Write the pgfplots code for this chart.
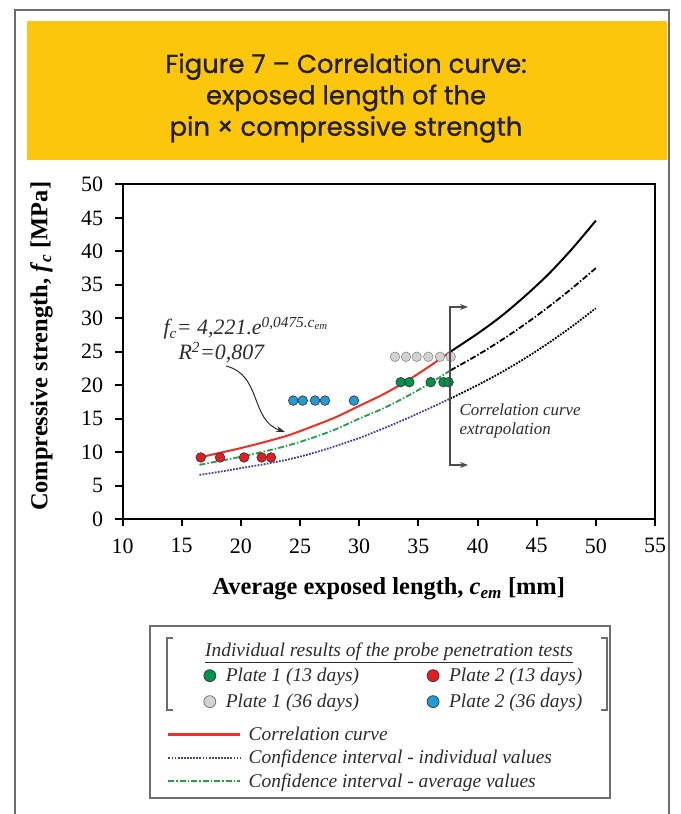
\documentclass[border=0pt]{standalone}
\usepackage{fontspec}
\setmainfont{Liberation Serif}
\newfontfamily\titlefont{Poppins}[FakeBold=0.9]
\usepackage{pgfplots}
\pgfplotsset{compat=1.18}
\usetikzlibrary{arrows.meta}

\definecolor{titleyellow}{HTML}{FCC60D}
\definecolor{titletext}{HTML}{231F20}
\definecolor{framegray}{HTML}{6D6D6D}
\definecolor{pgreen}{HTML}{00934A}
\definecolor{pred}{HTML}{E31B23}
\definecolor{pgray}{HTML}{D2D2D2}
\definecolor{pblue}{HTML}{2399D6}
\definecolor{edge}{HTML}{3A3A3A}
\definecolor{cred}{HTML}{EE3124}
\definecolor{cpurple}{HTML}{4B3E99}
\definecolor{cgreen}{HTML}{21A046}
\definecolor{legtext}{HTML}{2B2B2B}

\newcommand\legfont{\fontsize{19.5}{21}\selectfont\itshape}

\begin{document}
\begin{tikzpicture}[x=1bp,y=1bp]
\path[use as bounding box] (0,0) rectangle (681,814);
% frame and title band
\draw[framegray, line width=1.5bp] (15,0) -- (15,804) -- (669,804) -- (669,0);
\fill[titleyellow] (27,654) rectangle (667,793);
\node[align=center, font=\titlefont\fontsize{26}{31.5}\selectfont, text=titletext] at (346,716)
  {Figure 7 – Correlation curve:\\exposed length of the\\pin × compressive strength};

\begin{axis}[
  at={(122.5bp,295bp)}, anchor=south west,
  scale only axis, width=532.5bp, height=334.5bp,
  xmin=10, xmax=55, ymin=0, ymax=50,
  xtick={10,15,...,55}, ytick={0,5,...,50},
  tick pos=left, tick align=outside, major tick length=7bp,
  axis line style={line width=2bp},
  every tick/.style={black, line width=2bp},
  /pgf/number format/assume math mode=true,
  tick label style={font=\fontsize{22}{24}\selectfont},
  xticklabel style={yshift=-9bp},
  yticklabel style={xshift=-9bp},
  xlabel={Average exposed length, \textit{c}\textsubscript{\textit{em}} [mm]},
  ylabel={Compressive strength, \textit{f}\textsubscript{\textit{c}} [MPa]},
  label style={font=\fontsize{24.5}{26}\selectfont\bfseries},
  xlabel style={at={(axis description cs:0.5,-0.208)}, anchor=center},
  ylabel style={at={(axis description cs:-0.152,0.516)}, anchor=center},
  mark options={line width=0.7bp, draw=edge},
]
% confidence interval - individual values
\addplot[cpurple, line width=1.8bp, dash pattern=on 1.8bp off 1.3bp, smooth] coordinates
  {(16.5,6.6)(18,7.0)(20,7.6)(22,8.2)(24,8.9)(26,9.8)(28,10.9)(30,12.1)(32,13.5)(34,15.0)(36,16.6)(37.7,18.0)};
\addplot[black, line width=1.8bp, dash pattern=on 1.8bp off 1.3bp, smooth] coordinates
  {(37.7,18.0)(40,20.0)(42,21.9)(44,24.0)(46,26.3)(48,28.8)(50,31.5)};
% confidence interval - average values
\addplot[cgreen, line width=1.8bp, dash pattern=on 6bp off 2bp on 1.5bp off 2bp, smooth] coordinates
  {(16.5,8.1)(18,8.6)(20,9.3)(22,10.1)(24,11.0)(26,12.1)(28,13.4)(30,15.0)(32,16.5)(34,18.3)(36,20.3)(37.7,22.2)};
\addplot[black, line width=1.8bp, dash pattern=on 6bp off 2bp on 1.5bp off 2bp, smooth] coordinates
  {(37.7,22.2)(40,24.5)(42,26.7)(44,29.1)(46,31.7)(48,34.5)(50,37.5)};
% correlation curve
\addplot[cred, line width=2bp, smooth] coordinates
  {(16.5,9.2)(18,9.8)(20,10.6)(22,11.5)(24,12.5)(26,13.8)(28,15.2)(30,16.9)(32,18.6)(34,20.6)(36,22.9)(37.7,25.0)};
\addplot[black, line width=2bp, smooth] coordinates
  {(37.7,25.0)(40,27.7)(42,30.3)(44,33.3)(46,36.6)(48,40.4)(50,44.6)};
% test results
\addplot[only marks, mark=*, mark size=4.8bp, fill=pred] coordinates
  {(16.61,9.2)(18.24,9.2)(20.27,9.2)(21.76,9.2)(22.55,9.2)};
\addplot[only marks, mark=*, mark size=4.8bp, fill=pblue] coordinates
  {(24.43,17.7)(25.23,17.7)(26.27,17.7)(27.11,17.7)(29.56,17.7)};
\addplot[only marks, mark=*, mark size=4.8bp, fill=pgray, mark options={draw=framegray}] coordinates
  {(33.03,24.25)(33.96,24.25)(34.86,24.25)(35.84,24.25)(36.83,24.25)(37.74,24.25)};
\addplot[only marks, mark=*, mark size=4.8bp, fill=pgreen] coordinates
  {(33.51,20.45)(34.24,20.45)(36.05,20.45)(37.12,20.45)(37.55,20.45)};
\end{axis}

% equation annotation
\node[anchor=base west, font=\fontsize{22}{24}\selectfont\itshape, text=legtext] at (160,479)
  {f\textsubscript{c}= 4,221.e\textsuperscript{0,0475.c\textsubscript{em}}};
\node[anchor=base west, font=\fontsize{22}{24}\selectfont\itshape, text=legtext] at (175,454)
  {R\textsuperscript{2}=0,807};
\draw[-{Stealth[length=9bp,width=6bp]}, line width=1bp, legtext] (226,448) .. controls (262,439) and (250,394) .. (285,382);

% extrapolation bracket
\draw[{Stealth[length=8bp,width=6bp]}-{Stealth[length=8bp,width=6bp]}, line width=1.1bp, framegray!70!black]
  (468,507) -- (450,507) -- (450,349) -- (468,349);
\node[anchor=west, align=left, font=\fontsize{17}{19}\selectfont\itshape, text=legtext] at (456,393)
  {Correlation curve\\extrapolation};

% legend frame
\draw[framegray, line width=1.5bp] (150,16) rectangle (610,188);
\draw[framegray, line width=1.3bp] (173,176) -- (167,176) -- (167,104) -- (173,104);
\draw[framegray, line width=1.3bp] (601,176) -- (607,176) -- (607,104) -- (601,104);
\node[font=\legfont, text=legtext] at (389,161) {\underline{Individual results of the probe penetration tests}};

\begin{axis}[
  at={(0bp,0bp)}, anchor=south west, scale only axis, width=681bp, height=814bp,
  xmin=0, xmax=1, ymin=0, ymax=1, hide axis,
  legend columns=2, legend cell align=left,
  legend style={at={(0.2990,0.1806)}, anchor=north west, draw=none, fill=none, inner sep=0pt,
    font=\legfont, text=legtext,
    /tikz/every even column/.append style={column sep=66bp},
    /tikz/every odd column/.append style={column sep=8bp},
    nodes={inner ysep=1bp}, row sep=9bp},
  legend image code/.code={\draw[#1, every mark/.append style={scale=1.2}] plot coordinates {(0bp,0bp)};},
]
\addlegendimage{only marks, mark=*, mark size=5bp, mark options={fill=pgreen, draw=edge, line width=0.7bp}}
\addlegendentry{Plate 1 (13 days)}
\addlegendimage{only marks, mark=*, mark size=5bp, mark options={fill=pred, draw=edge, line width=0.7bp}}
\addlegendentry{Plate 2 (13 days)}
\addlegendimage{only marks, mark=*, mark size=5bp, mark options={fill=pgray, draw=framegray, line width=0.7bp}}
\addlegendentry{Plate 1 (36 days)}
\addlegendimage{only marks, mark=*, mark size=5bp, mark options={fill=pblue, draw=edge, line width=0.7bp}}
\addlegendentry{Plate 2 (36 days)}
\end{axis}

\begin{axis}[
  at={(0bp,0bp)}, anchor=south west, scale only axis, width=681bp, height=814bp,
  xmin=0, xmax=1, ymin=0, ymax=1, hide axis,
  legend cell align=left,
  legend style={at={(0.2452,0.1081)}, anchor=north west, draw=none, fill=none, inner sep=0pt,
    font=\legfont, text=legtext,
    /tikz/every odd column/.append style={column sep=5bp},
    nodes={inner ysep=1bp}, row sep=6bp},
  legend image code/.code={\draw[#1] (0bp,0bp) -- (72bp,0bp);},
]
\addlegendimage{cred, line width=2.5bp}
\addlegendentry{Correlation curve}
\addlegendimage{cpurple, line width=1.8bp, dash pattern=on 1.8bp off 1.3bp}
\addlegendentry{Confidence interval - individual values}
\addlegendimage{cgreen, line width=1.8bp, dash pattern=on 6bp off 2bp on 1.5bp off 2bp}
\addlegendentry{Confidence interval - average values}
\end{axis}
\end{tikzpicture}
\end{document}
